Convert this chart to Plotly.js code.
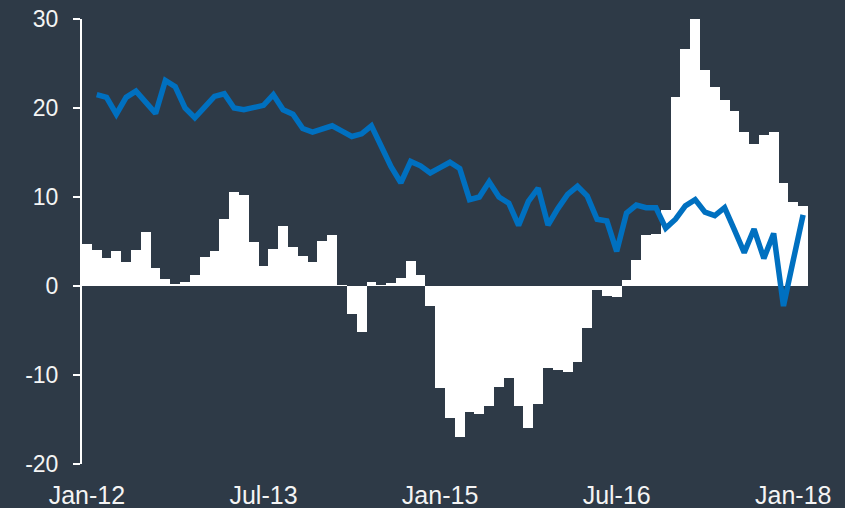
<!DOCTYPE html>
<html>
<head>
<meta charset="utf-8">
<script src="https://cdn.plot.ly/plotly-3.0.1.min.js"></script>
<style>
  html, body { margin: 0; padding: 0; background: #2e3a47; }
  #chart { width: 845px; height: 508px; }
</style>
</head>
<body>
<div id="chart"></div>
<script>
const months = [
  "Jan-12","Feb-12","Mar-12","Apr-12","May-12","Jun-12","Jul-12","Aug-12","Sep-12","Oct-12","Nov-12","Dec-12",
  "Jan-13","Feb-13","Mar-13","Apr-13","May-13","Jun-13","Jul-13","Aug-13","Sep-13","Oct-13","Nov-13","Dec-13",
  "Jan-14","Feb-14","Mar-14","Apr-14","May-14","Jun-14","Jul-14","Aug-14","Sep-14","Oct-14","Nov-14","Dec-14",
  "Jan-15","Feb-15","Mar-15","Apr-15","May-15","Jun-15","Jul-15","Aug-15","Sep-15","Oct-15","Nov-15","Dec-15",
  "Jan-16","Feb-16","Mar-16","Apr-16","May-16","Jun-16","Jul-16","Aug-16","Sep-16","Oct-16","Nov-16","Dec-16",
  "Jan-17","Feb-17","Mar-17","Apr-17","May-17","Jun-17","Jul-17","Aug-17","Sep-17","Oct-17","Nov-17","Dec-17",
  "Jan-18","Feb-18"
];

const barValues = [
  4.7, 4.0, 3.1, 3.9, 2.7, 4.0, 6.1, 2.0, 0.8, 0.2, 0.4, 1.2,
  3.3, 3.9, 7.5, 10.6, 10.2, 4.9, 2.2, 4.2, 6.7, 4.4, 3.4, 2.7,
  5.1, 5.7, 0.1, -3.2, -5.2, 0.5, 0.1, 0.3, 0.9, 2.8, 1.2, -2.3,
  -11.5, -14.8, -17.0, -14.2, -14.4, -13.5, -11.3, -10.3, -13.5, -16.0, -13.3, -9.2,
  -9.4, -9.7, -8.5, -4.75, -0.5, -1.1, -1.2, 0.7, 2.9, 5.7, 5.8, 8.5,
  21.2, 26.6, 30.0, 24.3, 22.4, 20.9, 19.7, 17.3, 16.0, 17.0, 17.3, 11.6,
  9.4, 9.0
];

// line series starts one month later (Feb-12)
const lineMonths = months.slice(1);
const lineValues = [
  21.5, 21.2, 19.3, 21.2, 21.9, 20.7, 19.4, 23.1, 22.4, 20.0, 18.9,
  20.1, 21.3, 21.6, 20.0, 19.8, 20.0, 20.3, 21.5, 19.8, 19.3, 17.7, 17.3,
  17.6, 18.0, 17.4, 16.8, 17.1, 18.0, 15.7, 13.4, 11.6, 14.0, 13.5, 12.7,
  13.3, 13.9, 13.2, 9.7, 10.0, 11.7, 10.0, 9.3, 6.8, 9.5, 11.0, 6.85,
  8.7, 10.3, 11.2, 10.1, 7.5, 7.3, 3.9, 8.2, 9.1, 8.8, 8.8, 6.5,
  7.5, 9.0, 9.7, 8.3, 7.9, 8.8, 6.3, 3.75, 6.4, 3.1, 5.9, -2.25,
  2.9, 8.0
];

const tickLabels = ["Jan-12", "Jul-13", "Jan-15", "Jul-16", "Jan-18"];
const yTicks = [-20, -10, 0, 10, 20, 30];

const bg = "#2e3a47";
const textColor = "#f4f4f4";

const traces = [
  {
    type: "bar",
    x: months,
    y: barValues,
    marker: { color: "#ffffff", line: { width: 0 } },
    hoverinfo: "x+y",
    showlegend: false
  },
  {
    type: "scatter",
    mode: "lines",
    x: lineMonths,
    y: lineValues,
    line: { color: "#0070c0", width: 5.5, shape: "linear" },
    showlegend: false
  }
];

const layout = {
  width: 845,
  height: 508,
  paper_bgcolor: bg,
  plot_bgcolor: bg,
  margin: { l: 82, r: 37, t: 19, b: 44, pad: 0 },
  bargap: 0,
  font: { family: "Liberation Sans, Arial, sans-serif", color: textColor },
  showlegend: false,
  xaxis: {
    type: "category",
    categoryorder: "array",
    categoryarray: months,
    range: [-0.5, 73.5],
    tickmode: "array",
    tickvals: tickLabels,
    ticktext: tickLabels,
    ticks: "",
    showline: false,
    showgrid: false,
    zeroline: false,
    tickfont: { size: 25, color: textColor },
    ticklabelstandoff: 14,
    fixedrange: true
  },
  yaxis: {
    range: [-20, 30],
    tickmode: "array",
    tickvals: yTicks,
    ticktext: yTicks.map(String),
    showline: true,
    linecolor: "#ffffff",
    linewidth: 2,
    ticks: "outside",
    ticklen: 7,
    tickwidth: 2,
    tickcolor: "#ffffff",
    showgrid: false,
    zeroline: false,
    tickfont: { size: 23, color: textColor },
    ticklabelstandoff: 10,
    fixedrange: true
  }
};

Plotly.newPlot("chart", traces, layout, { displayModeBar: false, staticPlot: true });
</script>
</body>
</html>
